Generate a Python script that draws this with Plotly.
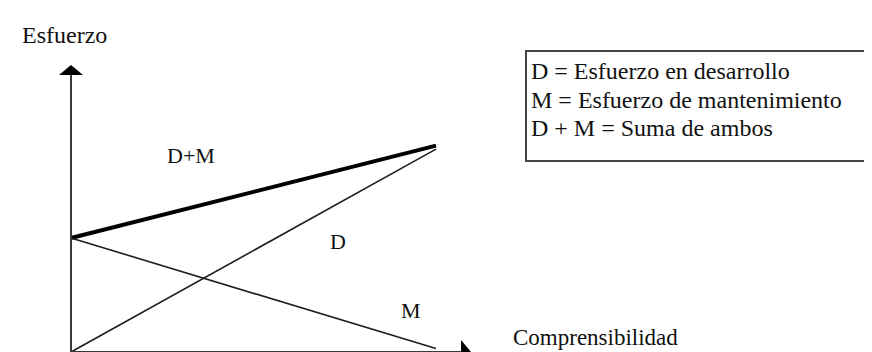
import plotly.graph_objects as go

# Data (arbitrary units)
x_vals = [0, 10]
D_vals = [0, 8.9]        # Esfuerzo en desarrollo
M_vals = [5, 0.15]       # Esfuerzo de mantenimiento
DM_vals = [5, 9.05]      # Suma de ambos
x_axis_end = 10.96
y_axis_end = 12.59

legend_lines = ["D = Esfuerzo en desarrollo",
                "M = Esfuerzo de mantenimiento",
                "D + M = Suma de ambos"]
series_labels = ["D+M", "D", "M"]

W, H = 872, 352
FONT = "Liberation Serif"
X0_PX, Y0_PX = 63, 344          # pixel position of the origin
XS, YS = 36.5, 22.8             # pixels per data unit

def px(xp):
    return xp / W

def py(yp):
    return 1 - yp / H

fig = go.Figure()
fig.add_trace(go.Scatter(x=x_vals, y=DM_vals, mode="lines",
                         line=dict(color="#000000", width=4), hoverinfo="skip"))
fig.add_trace(go.Scatter(x=x_vals, y=D_vals, mode="lines",
                         line=dict(color="#1e1e1e", width=1.6), hoverinfo="skip"))
fig.add_trace(go.Scatter(x=x_vals, y=M_vals, mode="lines",
                         line=dict(color="#1e1e1e", width=1.6), hoverinfo="skip"))

# arrowhead geometry in pixels -> data units
head_len, head_half = 10, 12
xa_base = x_axis_end - head_len / XS
ya_base = y_axis_end - head_len / YS

shapes = [
    # axes
    dict(type="line", xref="x", yref="y", x0=0, y0=0, x1=xa_base, y1=0,
         line=dict(color="#3a3a3a", width=2)),
    dict(type="line", xref="x", yref="y", x0=0, y0=0, x1=0, y1=ya_base,
         line=dict(color="#3a3a3a", width=2)),
    # arrowheads
    dict(type="path", xref="x", yref="y",
         path=f"M {x_axis_end},0 L {xa_base},{head_half / YS} L {xa_base},{-head_half / YS} Z",
         fillcolor="#000000", line=dict(width=0)),
    dict(type="path", xref="x", yref="y",
         path=f"M 0,{y_axis_end} L {head_half / XS},{ya_base} L {-head_half / XS},{ya_base} Z",
         fillcolor="#000000", line=dict(width=0)),
    # legend box
    dict(type="rect", xref="paper", yref="paper",
         x0=px(518), x1=px(869), y0=py(153), y1=py(43),
         line=dict(color="#444444", width=2), fillcolor="rgba(0,0,0,0)"),
]

ann = []
# axis titles
ann.append(dict(x=px(12), y=py(27), xref="paper", yref="paper", text="Esfuerzo",
                showarrow=False, xanchor="left", yanchor="middle",
                font=dict(family=FONT, size=24, color="#111111")))
ann.append(dict(x=px(503), y=py(329), xref="paper", yref="paper", text="Comprensibilidad",
                showarrow=False, xanchor="left", yanchor="middle",
                font=dict(family=FONT, size=23, color="#111111")))

# series labels
for lab, (lx, ly) in zip(series_labels, [(183, 147), (330, 233), (403, 302)]):
    ann.append(dict(x=px(lx), y=py(ly), xref="paper", yref="paper", text=lab,
                    showarrow=False, xanchor="center", yanchor="middle",
                    font=dict(family=FONT, size=22, color="#111111")))

# legend box text
for line, ly in zip(legend_lines, [63, 92, 120]):
    ann.append(dict(x=px(521), y=py(ly), xref="paper", yref="paper", text=line,
                    showarrow=False, xanchor="left", yanchor="middle",
                    font=dict(family=FONT, size=24, color="#111111")))

fig.update_layout(
    width=W, height=H,
    margin=dict(l=0, r=0, t=0, b=0),
    paper_bgcolor="white", plot_bgcolor="white",
    showlegend=False,
    xaxis=dict(range=[-X0_PX / XS, (W - X0_PX) / XS], visible=False, fixedrange=True),
    yaxis=dict(range=[-(H - Y0_PX) / YS, Y0_PX / YS], visible=False, fixedrange=True),
    annotations=ann,
    shapes=shapes,
)

fig.write_html("out.html", config=dict(displayModeBar=False))
